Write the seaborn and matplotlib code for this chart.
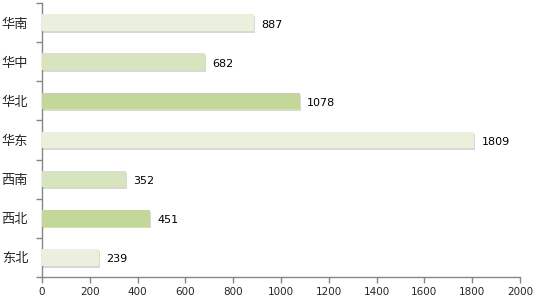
import matplotlib
matplotlib.use("Agg")
import matplotlib.pyplot as plt
import seaborn as sns
import pandas as pd
from matplotlib.patches import Rectangle

regions = ["华南", "华中", "华北", "华东", "西南", "西北", "东北"]
values = [887, 682, 1078, 1809, 352, 451, 239]
colors = ["#EBF0DE", "#D7E4BD", "#C4D79B", "#EBF0DE", "#D7E4BD", "#C4D79B", "#EBF0DE"]
xticks = [0, 200, 400, 600, 800, 1000, 1200, 1400, 1600, 1800, 2000]

sns.set_style("white")
plt.rcParams['font.family'] = ['Noto Sans CJK SC', 'DejaVu Sans']

df = pd.DataFrame({"region": regions, "value": values})

fig = plt.figure(figsize=(5.45, 3.07), dpi=100)
ax = fig.add_axes([42/545, 30/307, 478/545, 274/307])

sns.barplot(data=df, y="region", x="value", hue="region", palette=colors,
            orient="h", width=0.42, legend=False, ax=ax, saturation=1,
            edgecolor="none", zorder=3)

# subtle shadows
for p in list(ax.patches):
    x, y = p.get_x(), p.get_y()
    w, h = p.get_width(), p.get_height()
    sh = Rectangle((x + 4, y + 0.05), w, h, facecolor="#BFBFBF", alpha=0.6,
                   edgecolor="none", zorder=2)
    ax.add_patch(sh)

for i, v in enumerate(values):
    ax.text(v + 30, i + 0.05, str(v), va="center", ha="left", fontsize=8,
            color="#000000", family=['DejaVu Sans'])

ax.set_xlim(0, 2000)
ax.set_ylim(6.5, -0.5)
ax.set_xticks(xticks)
ax.set_xticklabels([str(t) for t in xticks], fontsize=7.5, family=['DejaVu Sans'])
ax.set_yticks(range(len(regions)))
ax.set_yticklabels(regions, fontsize=9.5)
ax.set_xlabel("")
ax.set_ylabel("")

# y ticks at category boundaries
ax.set_yticks([i + 0.5 for i in range(-1, len(regions))], minor=True)
ax.tick_params(axis="y", which="major", left=True, length=0, pad=10)
ax.tick_params(axis="y", which="minor", left=True, length=4, color="#868686", width=1, direction="out")
ax.tick_params(axis="x", which="major", bottom=True, length=4, color="#868686", width=1, direction="out", pad=3)

for s in ["top", "right"]:
    ax.spines[s].set_visible(False)
for s in ["left", "bottom"]:
    ax.spines[s].set_color("#868686")
    ax.spines[s].set_linewidth(1)

fig.savefig("out.png", dpi=100)
